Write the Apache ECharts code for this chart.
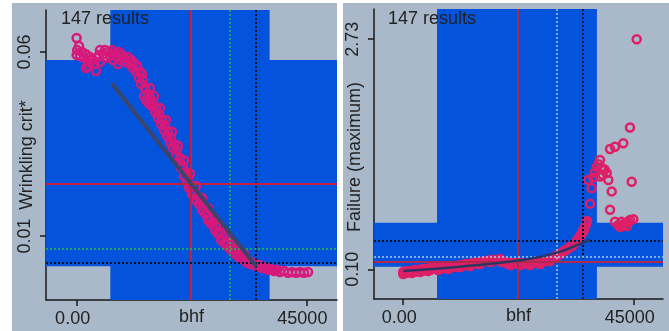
<!DOCTYPE html>
<html><head><meta charset="utf-8">
<script src="https://cdn.jsdelivr.net/npm/echarts@6/dist/echarts.min.js"></script>
<style>html,body{margin:0;padding:0;background:#fff}#c{width:669px;height:331px}</style>
</head><body><div id="c"></div>
<script>
// ---------- data ----------
const xTickValues = [0, 45000];
const xTickLabels = ['0.00', '45000'];
const leftYTickValues = [0.01, 0.06];
const leftYTickLabels = ['0.01', '0.06'];
const rightYTickValues = [0.10, 2.73];
const rightYTickLabels = ['0.10', '2.73'];
const xName = 'bhf';
const leftYName = 'Wrinkling crit*';
const rightYName = 'Failure (maximum)';
const resultsText = '147 results';

const bhfBand = [6600, 37800];
const leftValueBand = [0.0018, 0.0578];
const rightValueBand = [0.129, 0.632];
const bhfRefs = [22300, 30000, 35100];          // red, green, black
const leftValueRefs = [0.0241, 0.0065, 0.0027];   // red, green, black
const rightValueRefs = [0.186, 0.244, 0.429];     // red, light, black

const wrinklingPoints = [
[0,0.0638],[100,0.0605],[0,0.0592],[470,0.0616],[670,0.0589],[1060,0.0600],[1450,0.0584],[1840,0.0594],[2230,0.0573],[2230,0.0562],[2620,0.0586],[3020,0.0578],[3410,0.0567],[3800,0.0548],[3990,0.0584],[4390,0.0592],[4580,0.0573],
[5170,0.0594],[5560,0.0605],[5760,0.0584],[6150,0.0600],[6540,0.0589],[6930,0.0605],[7130,0.0578],[7520,0.0597],[7910,0.0586],[8310,0.0600],[8500,0.0578],[8890,0.0592],[9280,0.0584],[9680,0.0573],[10070,0.0586],[10460,0.0567],[10660,0.0578],[11050,0.0556],[11240,0.0570],[11640,0.0546],[11830,0.0562],[12220,0.0529],[12420,0.0546],[12610,0.0513],[13010,0.0524],[13200,0.0480],[13400,0.0502],[13590,0.0469],[13990,0.0486],[14180,0.0459],[14380,0.0475],[14770,0.0453],[14970,0.0464],[15360,0.0437],[15550,0.0448],[15940,0.0421],[16140,0.0431],[16530,0.0404],[16730,0.0415],[17120,0.0388],[17320,0.0399],[17710,0.0372],[17900,0.0383],[18290,0.0355],[18490,0.0366],[18880,0.0339],[19080,0.0350],[19470,0.0317],[19670,0.0334],[19860,0.0301],[20250,0.0312],[20450,0.0285],[20840,0.0290],[21040,0.0263],[21230,0.0274],[21630,0.0247],[21820,0.0258],[22020,0.0230],[22410,0.0236],[22600,0.0214],[23000,0.0219],[23390,0.0198],[23580,0.0209],[23980,0.0187],[24170,0.0198],[24560,0.0171],[24760,0.0181],[25150,0.0160],[25540,0.0165],[25740,0.0143],[26130,0.0149],[26320,0.0133],[26720,0.0138],[27110,0.0116],[27310,0.0127],[27700,0.0106],[28090,0.0111],[28290,0.0089],[28680,0.0095],[29070,0.0078],[29460,0.0084],[29850,0.0067],[30240,0.0073],[30640,0.0056],[31030,0.0062],[31420,0.0046],[31810,0.0051],[32200,0.0038],[32590,0.0043],[33180,0.0029],[33570,0.0035],[33960,0.0024],[34550,0.0027],[35140,0.0018],[35730,0.0021],[36320,0.0013],[36900,0.0016],[37490,0.0008],[38080,0.0010],[38670,0.0005],[39260,0.0008],[39840,0.0002],[40630,0.0005],[41410,0.0000],[42190,0.0002],[42980,0.0000],[43760,0.0002],[44540,0.0000],[45330,0.0002],
[16340,0.0448],[17510,0.0415],[18690,0.0383],[19860,0.0345],[21040,0.0306],[22210,0.0269],[23390,0.0236],[24560,0.0203],[25740,0.0176],[26910,0.0149],[28090,0.0127],[29260,0.0100],[30440,0.0078],[31620,0.0062],[32790,0.0051],[14380,0.0502],[15160,0.0480],[12810,0.0540],[8110,0.0567],[4580,0.0605],[1840,0.0556]
];

const failurePoints = [
[0,0.069],[0,0.046],[550,0.080],[550,0.057],[1330,0.080],[2110,0.092],[2110,0.069],[2890,0.092],[3670,0.103],[3670,0.080],[4450,0.103],[5230,0.115],[5230,0.092],[6210,0.115],[7180,0.126],[7180,0.103],[8160,0.126],[9130,0.138],[9130,0.115],[10110,0.138],[11090,0.149],[11090,0.126],[12060,0.160],[13040,0.160],[13040,0.138],[14010,0.172],[14990,0.183],[14990,0.160],[15960,0.194],[16940,0.206],[16940,0.183],[17920,0.206],[18890,0.217],[18890,0.194],[19870,0.183],[20840,0.172],[20840,0.149],[21820,0.172],[22800,0.172],[22800,0.149],[23770,0.172],[24750,0.172],[24750,0.149],[25720,0.183],[26700,0.183],[26700,0.160],[27680,0.194],[28650,0.217],[28650,0.194],
[29630,0.240],[30210,0.263],[30800,0.286],[31380,0.309],[31970,0.331],[32550,0.354],[33140,0.377],[33720,0.411],[34110,0.446],[34500,0.480],[34890,0.514],[35280,0.549],[35480,0.583],[35670,0.617],[35870,0.651],
[930,0.069],[1720,0.057],[2500,0.080],[3280,0.069],[4060,0.092],[4840,0.080],[5620,0.103],[6790,0.092],[7570,0.115],[8740,0.103],[9520,0.126],[10700,0.126],[11480,0.138],[12650,0.149],[13430,0.172],[14600,0.160],[15380,0.183],[16550,0.194],[17330,0.194],[18500,0.206],[19280,0.183],[20260,0.172],[21230,0.160],[22400,0.160],[23180,0.160],[24360,0.160],[25140,0.172],[26310,0.172],[27090,0.183],[28260,0.206],[29040,0.229],[29820,0.251],[30600,0.274],[31770,0.320],[32940,0.366],[33920,0.423],[34700,0.491],[35090,0.526],
[45570,2.73],[44260,1.72],[42950,1.54],[41330,1.50],[40360,1.475],[38410,1.35],[37760,1.27],[39050,1.235],[39720,1.20],[38410,1.16],[40030,1.12],[36120,1.12],[36790,1.025],[44590,1.10],[40690,0.99],[36460,0.85],[40360,0.78],[35810,0.644],[35150,0.55],
[42640,0.644],[43290,0.625],[44260,0.663],[41980,0.606],[44910,0.671],[41330,0.644],[43680,0.594],[42320,0.583],[38100,1.30],[38700,1.26],[39300,1.24],[37400,1.21],[38900,1.18],[37100,1.15],[42900,0.60],[43900,0.64]
];

const wrinklingFit = [[6875,0.0515],[35240,0.00165]];
const failureFit = [[0,0.080],[11000,0.130],[22400,0.200],[30000,0.290],[34500,0.390],[36460,0.440]];

// ---------- chart ----------
const FONT = '"Liberation Sans", Arial, sans-serif';
const TXT = '#222';
const AX = '#1a1a1a';
const BLUE = '#0453dd';
const GRAY = '#a9b9ca';

function lookup(vals, labels) {
  return v => { for (let i = 0; i < vals.length; i++) if (Math.abs(vals[i] - v) < 1e-9 * Math.max(1, Math.abs(v))) return labels[i]; return ''; };
}
function xAxisCfg(gi, min, max) {
  return {
    gridIndex: gi, type: 'value', min, max,
    axisLine: { show: true, onZero: false, lineStyle: { color: AX, width: 1.5 } },
    axisTick: { show: true, customValues: xTickValues, length: 6, lineStyle: { color: AX, width: 1.5 } },
    axisLabel: { customValues: xTickValues, formatter: lookup(xTickValues, xTickLabels), fontSize: 18, color: TXT, margin: 10, padding: [0, 8, 0, 0], fontFamily: FONT },
    splitLine: { show: false },
    name: xName, nameLocation: 'middle', nameGap: 8, nameMoveOverlap: false,
    nameTextStyle: { fontSize: 18, color: TXT, fontFamily: FONT, verticalAlign: 'top' }
  };
}
function yAxisCfg(gi, min, max, vals, labels) {
  return {
    gridIndex: gi, type: 'value', min, max,
    axisLine: { show: true, onZero: false, lineStyle: { color: AX, width: 1.5 } },
    axisTick: { show: true, customValues: vals, length: 6, lineStyle: { color: AX, width: 1.5 } },
    axisLabel: { customValues: vals, formatter: lookup(vals, labels), rotate: 90, fontSize: 18, color: TXT, margin: 12, fontFamily: FONT },
    splitLine: { show: false }
  };
}
function bandSeries(xi, vb) {
  return {
    type: 'line', xAxisIndex: xi, yAxisIndex: xi, data: [], z: 1, silent: true,
    markArea: { silent: true, itemStyle: { color: BLUE }, label: { show: false },
      data: [[{ xAxis: bhfBand[0] }, { xAxis: bhfBand[1] }], [{ yAxis: vb[0] }, { yAxis: vb[1] }]] }
  };
}
function refSeries(xi, yRefs, colors) {
  const styles = [
    { color: colors[0], width: 2, type: 'solid' },
    { color: colors[1], width: 1.5, type: [2, 2] },
    { color: colors[2], width: 2, type: [2, 2] }
  ];
  const data = [];
  bhfRefs.forEach((v, i) => data.push({ xAxis: v, lineStyle: styles[i] }));
  yRefs.forEach((v, i) => data.push({ yAxis: v, lineStyle: styles[i] }));
  return {
    type: 'line', xAxisIndex: xi, yAxisIndex: xi, data: [], z: 6, silent: true,
    markLine: { silent: true, precision: 8, symbol: ['none', 'none'], label: { show: false }, animation: false, data }
  };
}
function vText(text, x, y) {
  return { type: 'text', x, y, rotation: Math.PI / 2, z: 100,
    style: { text, font: '18px ' + FONT, fill: TXT, textAlign: 'center', textVerticalAlign: 'middle' } };
}

const option = {
  animation: false,
  graphic: [
    { type: 'rect', shape: { x: 12, y: 3, width: 325, height: 328 }, style: { fill: GRAY }, z: -10 },
    { type: 'rect', shape: { x: 343, y: 3, width: 326, height: 328 }, style: { fill: GRAY }, z: -10 },
    { type: 'text', x: 61, y: 10, style: { text: resultsText, font: '18px ' + FONT, fill: TXT }, z: 100 },
    { type: 'text', x: 388, y: 10, style: { text: resultsText, font: '18px ' + FONT, fill: TXT }, z: 100 },
    vText(leftYName, 27, 155),
    vText(rightYName, 355, 157)
  ],
  grid: [
    { left: 46, top: 10, width: 291, height: 290, outerBoundsMode: 'none', containLabel: false },
    { left: 374, top: 9, width: 289, height: 290, outerBoundsMode: 'none', containLabel: false }
  ],
  xAxis: [xAxisCfg(0, -6000, 51000), xAxisCfg(1, -5700, 50700)],
  yAxis: [
    yAxisCfg(0, -0.0074, 0.0714, leftYTickValues, leftYTickLabels),
    yAxisCfg(1, -0.24, 3.075, rightYTickValues, rightYTickLabels)
  ],
  series: [
    bandSeries(0, leftValueBand),
    bandSeries(1, rightValueBand),
    { type: 'scatter', xAxisIndex: 0, yAxisIndex: 0, data: wrinklingPoints, symbol: 'circle', symbolSize: 8, z: 3,
      itemStyle: { color: 'rgba(0,0,0,0)', borderColor: '#d6197a', borderWidth: 2.5, opacity: 1 } },
    { type: 'scatter', xAxisIndex: 1, yAxisIndex: 1, data: failurePoints, symbol: 'circle', symbolSize: 8, z: 3,
      itemStyle: { color: 'rgba(0,0,0,0)', borderColor: '#de1f66', borderWidth: 2.5, opacity: 1 } },
    { type: 'line', xAxisIndex: 0, yAxisIndex: 0, data: wrinklingFit, showSymbol: false, z: 5,
      lineStyle: { color: '#3c4569', width: 4 } },
    { type: 'line', xAxisIndex: 1, yAxisIndex: 1, data: failureFit, showSymbol: false, smooth: true, z: 5,
      lineStyle: { color: '#2c3560', width: 2.5 } },
    refSeries(0, leftValueRefs, ['#c8203c', '#22c03a', '#0c1430']),
    refSeries(1, rightValueRefs, ['#b0284a', '#a8cdee', '#0c1430'])
  ]
};
const chart = echarts.init(document.getElementById('c'), null, { renderer: 'canvas' });
chart.setOption(option);
</script></body></html>
